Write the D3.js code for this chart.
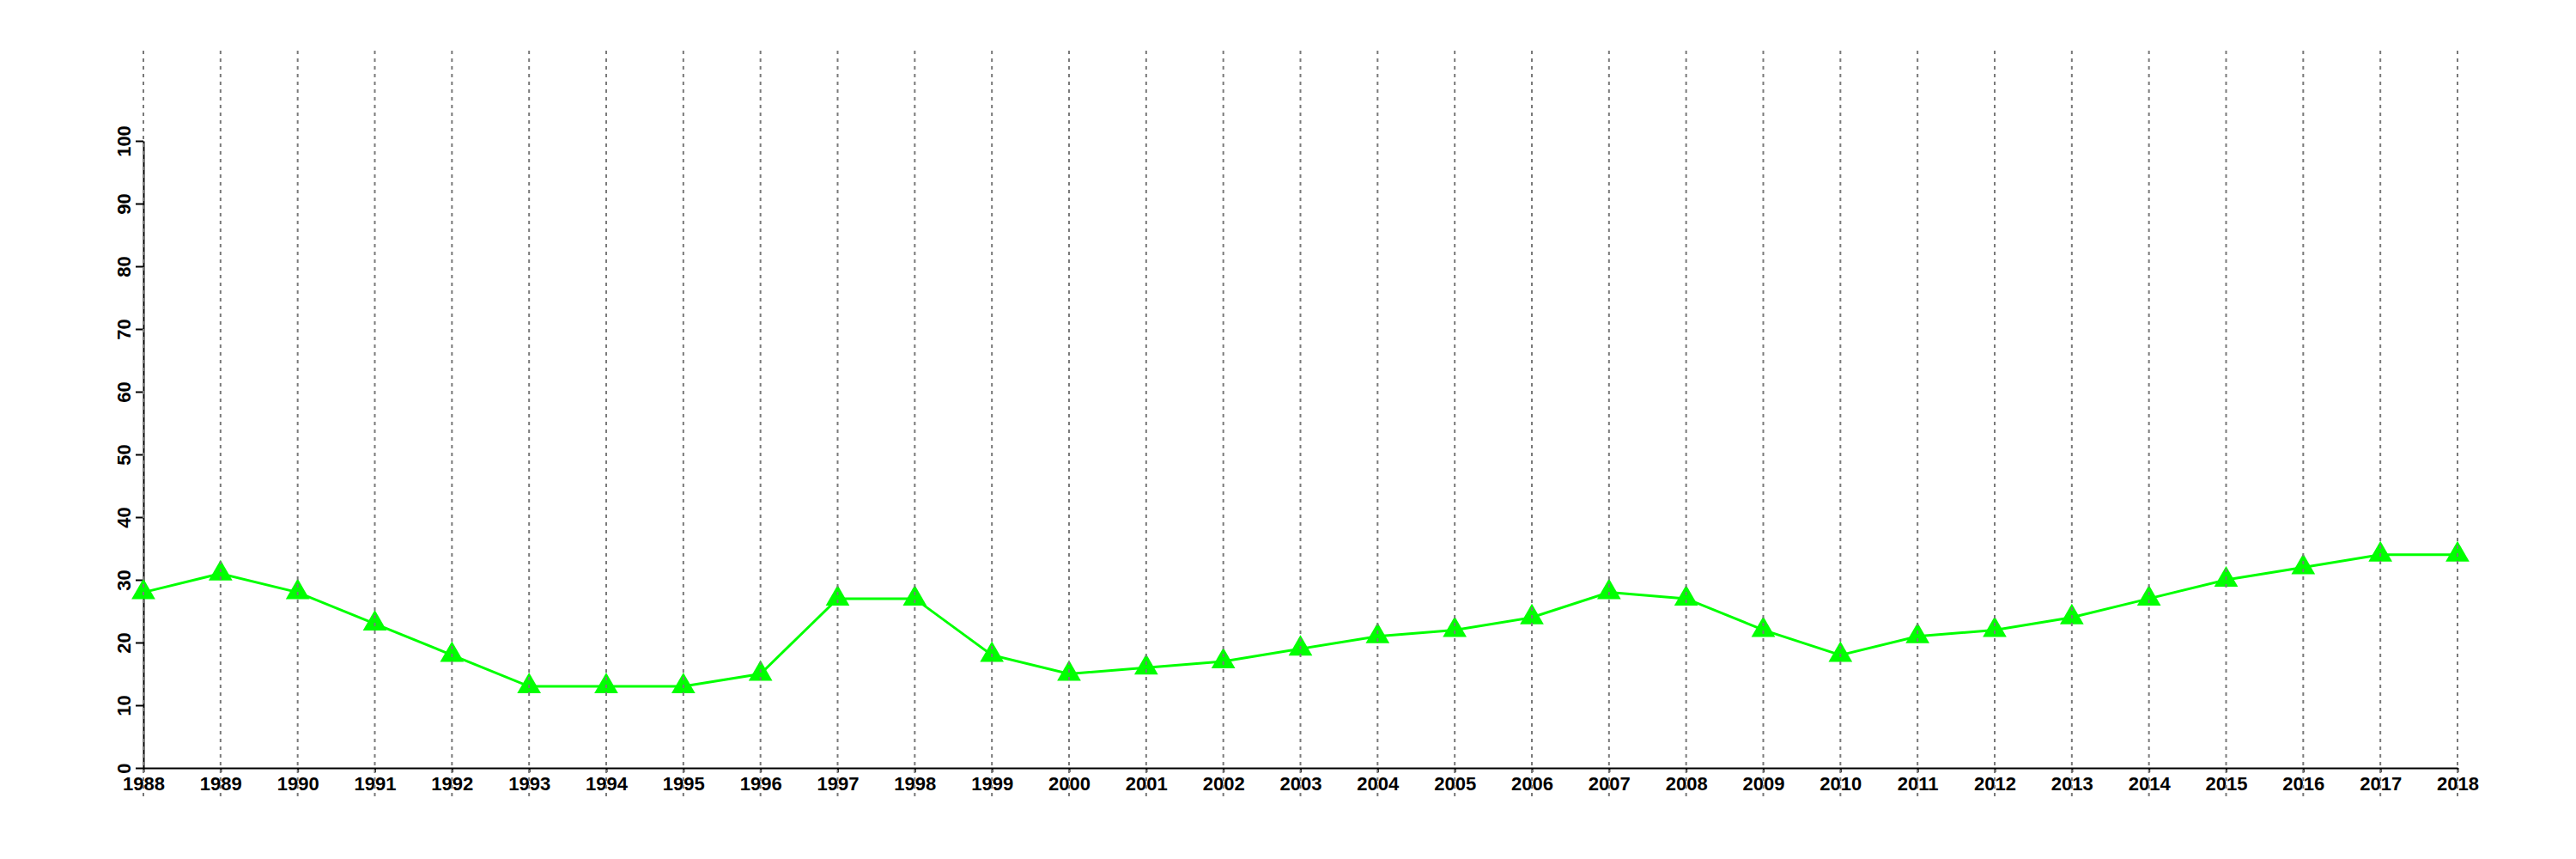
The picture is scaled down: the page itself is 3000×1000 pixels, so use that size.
<!DOCTYPE html>
<html>
<head>
<meta charset="utf-8">
<script src="https://cdn.jsdelivr.net/npm/d3@7"></script>
<style>
  html, body { margin: 0; padding: 0; background: #fff; }
  svg { display: block; }
</style>
</head>
<body>
<svg id="chart" width="3000" height="1000"></svg>
<script>
const years = [1988,1989,1990,1991,1992,1993,1994,1995,1996,1997,1998,1999,2000,2001,2002,2003,2004,2005,2006,2007,2008,2009,2010,2011,2012,2013,2014,2015,2016,2017,2018];
const values = [28,31,28,23,18,13,13,13,15,27,27,18,15,16,17,19,21,22,24,28,27,22,18,21,22,24,27,30,32,34,34];
const yTicks = [0,10,20,30,40,50,60,70,80,90,100];

const svg = d3.select("#chart");
const x = d3.scaleLinear().domain([1988, 2018]).range([167, 2862]);
const y = d3.scaleLinear().domain([0, 100]).range([894, 164]);
const font = "'Liberation Sans', Arial, Helvetica, sans-serif";

// x axis
const gx = svg.append("g").attr("transform", `translate(0,${y(0)})`)
  .call(d3.axisBottom(x).tickValues(years).tickFormat(d3.format("d")).tickSize(5).tickSizeOuter(0));
gx.select(".domain").attr("stroke", "#000").attr("stroke-width", 2);
gx.selectAll(".tick line").attr("stroke", "#000").attr("stroke-width", 2);
gx.selectAll(".tick text").attr("y", 26).attr("dy", 0)
  .attr("font-family", font).attr("font-size", 22).attr("font-weight", "bold").attr("fill", "#000");

// y axis
const gy = svg.append("g").attr("transform", `translate(${x(1988)},0)`)
  .call(d3.axisLeft(y).tickValues(yTicks).tickSize(9).tickSizeOuter(0));
gy.select(".domain").attr("stroke", "#000").attr("stroke-width", 2);
gy.selectAll(".tick line").attr("stroke", "#000").attr("stroke-width", 2);
gy.selectAll(".tick text")
  .attr("x", null).attr("dy", 0)
  .attr("transform", "translate(-15,0) rotate(-90)")
  .attr("text-anchor", "middle")
  .attr("font-family", font).attr("font-size", 22).attr("font-weight", "bold").attr("fill", "#000");

// line
const line = d3.line().x((d, i) => x(years[i])).y(d => y(d));
svg.append("path").datum(values)
  .attr("d", line).attr("fill", "none").attr("stroke", "#00ff00").attr("stroke-width", 3);

// triangle markers
const r = 16;
const tri = `M0,${-r}L${r*0.866},${r/2}L${-r*0.866},${r/2}Z`;
svg.append("g").selectAll("path").data(values).join("path")
  .attr("transform", (d, i) => `translate(${x(years[i])},${y(d)})`)
  .attr("d", tri).attr("fill", "#00ff00");

// vertical dashed grid lines (drawn on top)
svg.append("g").selectAll("line").data(years).join("line")
  .attr("x1", d => x(d)).attr("x2", d => x(d))
  .attr("y1", 59).attr("y2", 927)
  .attr("stroke", "#7a7a7a").attr("stroke-width", 2).attr("stroke-dasharray", "4,5");
</script>
</body>
</html>
